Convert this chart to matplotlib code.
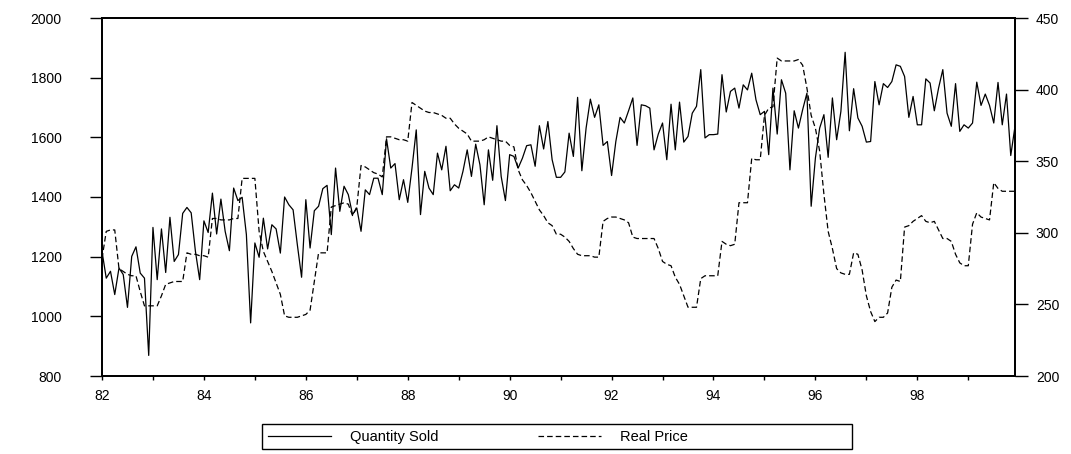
import numpy as np
import matplotlib
matplotlib.use("Agg")
import matplotlib.pyplot as plt
from matplotlib.patches import Rectangle
from matplotlib.lines import Line2D

plt.rcParams['font.family'] = ['Liberation Sans', 'DejaVu Sans']
plt.rcParams['font.size'] = 10
plt.rcParams['lines.scale_dashes'] = False

# monthly data, 1982:01 - 1999:12
quantity = [
    1218, 1128, 1151, 1073, 1162, 1140, 1030, 1201, 1233, 1145, 1128, 869,
    1298, 1123, 1293, 1147, 1332, 1184, 1207, 1345, 1365, 1347, 1218, 1123,
    1320, 1281, 1413, 1276, 1393, 1285, 1220, 1430, 1388, 1399, 1274, 978,
    1246, 1198, 1329, 1226, 1307, 1293, 1212, 1400, 1374, 1357, 1240, 1131,
    1391, 1229, 1354, 1369, 1428, 1439, 1274, 1497, 1352, 1436, 1408, 1341,
    1363, 1285, 1424, 1408, 1463, 1463, 1408, 1595, 1497, 1512, 1391, 1458,
    1382, 1497, 1625, 1341, 1486, 1430, 1408, 1547, 1491, 1570, 1421, 1441,
    1430, 1486, 1558, 1469, 1577, 1508, 1374, 1558, 1456, 1639, 1469, 1388,
    1542, 1536, 1497, 1530, 1572, 1575, 1503, 1639, 1561, 1653, 1525, 1466,
    1466, 1484, 1614, 1536, 1734, 1488, 1631, 1728, 1667, 1709, 1573, 1586,
    1472, 1586, 1667, 1648, 1689, 1732, 1573, 1709, 1706, 1698, 1558, 1611,
    1648, 1525, 1711, 1558, 1718, 1584, 1603, 1681, 1704, 1827, 1598, 1609,
    1609, 1611, 1810, 1685, 1754, 1765, 1698, 1776, 1759, 1815, 1726, 1676,
    1687, 1542, 1765, 1611, 1793, 1748, 1491, 1689, 1631, 1693, 1748, 1369,
    1531, 1631, 1676, 1533, 1732, 1592, 1687, 1885, 1622, 1763, 1665, 1637,
    1584, 1586, 1787, 1709, 1780, 1767, 1787, 1843, 1838, 1804, 1667, 1737,
    1642, 1642, 1796, 1782, 1689, 1765, 1827, 1681, 1637, 1780, 1620, 1642,
    1631, 1648, 1785, 1707, 1745, 1707, 1648, 1784, 1642, 1745, 1539, 1637,
]

real_price = [
    282, 301, 302, 302, 275, 273, 271, 270, 270, 259, 249, 249,
    249, 249, 256, 264, 265, 266, 266, 266, 286, 285, 285, 284,
    284, 283, 310, 310, 309, 309, 309, 310, 310, 338, 338, 338,
    338, 301, 287, 280, 273, 265, 257, 242, 241, 241, 241, 242,
    243, 246, 266, 286, 286, 286, 318, 319, 320, 321, 320, 312,
    318, 347, 346, 344, 342, 341, 339, 367, 367, 366, 365, 365,
    364, 391, 389, 387, 385, 384, 384, 383, 382, 380, 380, 376,
    373, 371, 369, 364, 364, 364, 365, 367, 366, 365, 364, 364,
    361, 360, 344, 337, 333, 328, 322, 316, 312, 307, 305, 299,
    299, 297, 294, 289, 285, 284, 284, 284, 283, 283, 308, 310,
    311, 311, 310, 309, 307, 297, 296, 296, 296, 296, 296, 289,
    280, 278, 277, 269, 264, 256, 248, 248, 248, 268, 270, 270,
    270, 270, 294, 292, 291, 292, 321, 321, 321, 352, 351, 351,
    382, 387, 388, 422, 420, 420, 420, 420, 421, 417, 401, 382,
    373, 357, 327, 301, 289, 275, 272, 271, 271, 286, 285, 274,
    256, 245, 238, 241, 241, 244, 262, 267, 266, 304, 305, 308,
    310, 312, 308, 307, 308, 302, 296, 296, 294, 285, 279, 277,
    277, 306, 314, 311, 310, 309, 335, 331, 329, 329, 329, 329,
]

year_labels = ['82', '84', '86', '88', '90', '92', '94', '96', '98']
left_ticks = [800, 1000, 1200, 1400, 1600, 1800, 2000]
right_ticks = [200, 250, 300, 350, 400, 450]

W, H = 1071, 454
fig = plt.figure(figsize=(W / 100, H / 100), dpi=100)
ax = fig.add_axes([102 / W, 1 - 376 / H, 913 / W, 358 / H])
ax2 = ax.twinx()

months = np.arange(len(quantity))
ax.plot(months, quantity, color='black', lw=0.9)
ax2.plot(months, real_price, color='black', lw=0.9, dashes=(4, 2.2))

ax.set_xlim(0, len(quantity) - 1)
ax.set_ylim(800, 2000)
ax2.set_ylim(200, 450)

ax.set_xticks(np.arange(0, len(quantity), 24))
ax.set_xticklabels(year_labels)
ax.set_xticks(np.arange(12, len(quantity), 24), minor=True)
ax.set_yticks(left_ticks)
ax2.set_yticks(right_ticks)

ax.tick_params(axis='x', which='both', direction='out', length=3, width=1, pad=6)
ax.tick_params(axis='y', direction='out', length=9, width=1, pad=20)
ax2.tick_params(axis='y', direction='out', length=9, width=1, pad=6)

for a in (ax, ax2):
    for s in a.spines.values():
        s.set_linewidth(1.3)

# legend box
fig.patches.append(Rectangle((262 / W, 1 - 449 / H), 590 / W, 25 / H,
                             transform=fig.transFigure, fill=False,
                             edgecolor='black', lw=1))
h1 = Line2D([], [], color='black', lw=0.9)
h2 = Line2D([], [], color='black', lw=0.9, dashes=(4, 2.2))
fig.legend([h1], ['Quantity Sold'], loc='center left', frameon=False,
           bbox_to_anchor=(262 / W, 1 - 437 / H), handlelength=4.3,
           handletextpad=1.3, fontsize=10.5, borderaxespad=0)
fig.legend([h2], ['Real Price'], loc='center left', frameon=False,
           bbox_to_anchor=(532 / W, 1 - 437 / H), handlelength=4.3,
           handletextpad=1.3, fontsize=10.5, borderaxespad=0)

fig.savefig('out.png', dpi=100)
